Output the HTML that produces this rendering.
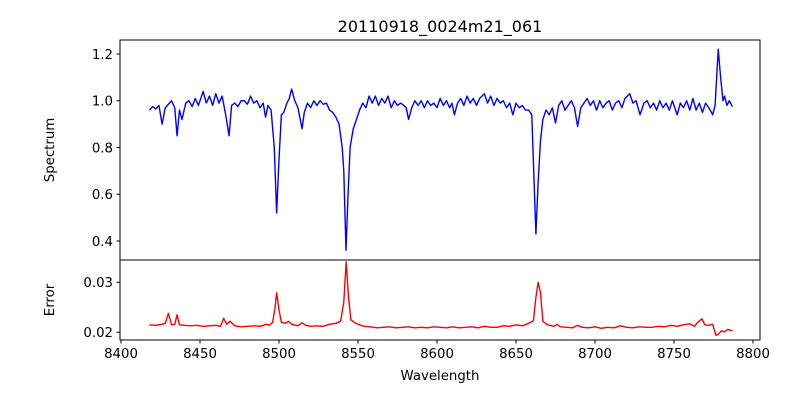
<!DOCTYPE html>
<html><head><meta charset="utf-8"><style>
html,body{margin:0;padding:0;background:#fff;}
svg{display:block;font-family:"DejaVu Sans","Liberation Sans",sans-serif;}
</style></head><body>
<svg id="chart" width="800" height="400" viewBox="0 0 800 400">
<text x="440" y="32" text-anchor="middle" font-size="16">20110918_0024m21_061</text>
<text transform="translate(54,150) rotate(-90)" text-anchor="middle" font-size="13.3">Spectrum</text>
<text transform="translate(54,300) rotate(-90)" text-anchor="middle" font-size="13.3">Error</text>
<text x="440" y="380" text-anchor="middle" font-size="13.3">Wavelength</text>
<g id="marks"></g>
<rect x="120" y="40" width="640" height="220" fill="none" stroke="#000" stroke-width="1"/>
<rect x="120" y="260" width="640" height="80" fill="none" stroke="#000" stroke-width="1"/>
<g id="axes"></g>
</svg>
<script>
const xTicks = [8400, 8450, 8500, 8550, 8600, 8650, 8700, 8750, 8800];
const specTicks = [0.4, 0.6, 0.8, 1.0, 1.2];
const specTickLabels = ["0.4", "0.6", "0.8", "1.0", "1.2"];
const errTicks = [0.02, 0.03];
const errTickLabels = ["0.02", "0.03"];

const specWave = [8418,8420,8422,8424,8426,8428,8430,8432,8434,8435.5,8437,8438.6,8441,8443,8445,8447,8449,8452,8454,8456,8458,8460,8462,8464,8466,8468.4,8470,8472,8474,8476,8478,8480,8482,8484,8486,8488,8490,8491.5,8493,8495,8497,8498.5,8500,8501.5,8503,8505,8506.5,8508,8510,8512,8514.6,8516,8518,8520,8522,8524,8526,8528,8530,8532,8534,8536,8538,8540,8541,8542.4,8543.7,8545,8547,8549,8551,8553,8555,8557,8559,8561,8563,8565,8567,8569,8571,8573,8575,8577,8579,8580.5,8582,8584,8586,8588,8590,8592,8594,8596,8598,8600,8602,8604,8606,8608,8609.5,8611,8613,8615,8617,8619,8621,8623,8625,8627,8630,8632,8634,8636,8638,8640,8642,8644,8646,8648,8650,8652,8654,8656,8658,8660,8661.2,8662.6,8664,8665.5,8667,8669,8671,8673,8675,8677,8679,8681,8683,8685,8687,8689,8691,8693,8695,8697,8699,8701,8703,8705,8707,8709,8711,8713,8715,8717,8719,8722,8724,8726,8728.5,8731,8733,8735,8737,8739,8741,8743,8745,8747,8749,8752,8754,8756,8758,8760,8762,8764,8766,8768,8770,8772,8774.5,8776,8777,8778,8779.5,8781,8782,8783.5,8785,8787];
const specValues = [0.96,0.975,0.965,0.98,0.90,0.97,0.985,1.0,0.97,0.85,0.96,0.92,0.99,1.0,0.975,1.01,0.98,1.04,0.99,1.02,0.98,1.03,0.99,1.02,0.95,0.85,0.98,0.99,0.975,1.0,1.0,0.985,1.02,0.99,1.0,0.97,0.99,0.93,0.98,0.96,0.80,0.52,0.75,0.94,0.95,0.99,1.01,1.05,1.0,0.97,0.88,0.95,0.99,0.97,1.0,0.98,1.0,0.985,0.99,0.96,0.95,0.93,0.90,0.80,0.70,0.36,0.60,0.80,0.88,0.92,0.96,0.99,0.97,1.02,0.99,1.02,0.98,1.01,0.99,1.02,0.97,1.0,0.98,0.99,0.98,0.97,0.92,0.97,1.0,0.98,1.0,0.97,1.0,0.98,0.99,0.97,1.01,0.98,1.0,0.97,0.99,0.94,0.99,1.01,0.98,1.02,0.99,1.01,0.98,1.01,1.03,0.99,1.02,0.98,1.01,0.99,1.0,0.97,0.99,0.94,0.99,0.97,0.98,0.96,0.96,0.94,0.70,0.43,0.65,0.83,0.92,0.96,0.94,0.97,0.905,0.98,1.0,0.96,0.98,1.0,0.97,0.89,0.97,0.99,1.01,0.98,1.0,0.96,1.0,0.97,0.99,1.0,0.96,0.99,1.0,0.97,1.01,1.03,0.99,1.0,0.94,0.99,1.0,0.97,0.99,0.96,1.0,0.97,0.99,0.96,1.0,0.94,0.99,0.97,1.0,0.96,1.01,0.96,0.99,0.95,0.99,0.97,0.94,0.98,1.1,1.22,1.1,1.0,1.02,0.98,1.0,0.975];

const errWave = [8418,8422,8426,8428,8430,8432,8434,8435.5,8437,8440,8444,8448,8452,8456,8460,8463,8465,8467,8469,8472,8476,8480,8484,8488,8492,8494,8496,8497.5,8498.5,8500,8501.5,8504,8506,8508,8512,8514.5,8517,8520,8524,8528,8532,8536,8539,8541,8542.5,8544,8545.5,8548,8550,8554,8558,8562,8566,8570,8574,8578,8582,8586,8590,8594,8598,8602,8606,8610,8614,8618,8622,8626,8630,8634,8638,8642,8646,8650,8654,8658,8661,8662.6,8664,8665.5,8667,8670,8674,8676,8678,8682,8686,8689,8692,8696,8700,8704,8708,8712,8716,8720,8724,8728,8732,8736,8740,8744,8748,8752,8756,8760,8763,8765,8767.7,8769.5,8772,8774.5,8776.5,8778,8780,8782,8784,8787];
const errValues = [0.0215,0.0214,0.0216,0.0218,0.0238,0.0215,0.0216,0.0235,0.0215,0.0214,0.0213,0.0214,0.0212,0.0213,0.0214,0.0212,0.0228,0.0216,0.0222,0.0213,0.0211,0.0212,0.0213,0.0212,0.0216,0.0214,0.022,0.025,0.0279,0.0245,0.022,0.0218,0.0222,0.0216,0.0213,0.0219,0.0214,0.0212,0.0213,0.0212,0.0216,0.0218,0.0222,0.026,0.0341,0.027,0.0225,0.0219,0.0216,0.0212,0.0211,0.0209,0.021,0.0211,0.0209,0.021,0.0211,0.0209,0.021,0.0209,0.0211,0.021,0.0209,0.0211,0.0209,0.021,0.0211,0.0209,0.0212,0.021,0.021,0.0213,0.0212,0.0215,0.0213,0.0218,0.0223,0.027,0.030,0.028,0.0222,0.0215,0.0212,0.0216,0.0211,0.021,0.0209,0.0214,0.021,0.0209,0.0211,0.0208,0.021,0.0209,0.0213,0.021,0.0209,0.0211,0.021,0.021,0.0212,0.0211,0.0214,0.0212,0.0215,0.0217,0.0212,0.022,0.0227,0.0215,0.0214,0.0216,0.0194,0.0196,0.0203,0.0201,0.0206,0.0203];

const NS = "http://www.w3.org/2000/svg";
function xScale(w){ return 121 + (w - 8400) * 1.58; }
function ySpec(v){ return 241 - (v - 0.4) * 233.75; }
function yErr(v){ return 332.3 - (v - 0.02) * 5000; }

const marks = document.getElementById('marks');
const axes = document.getElementById('axes');

function linePath(ws, vs, yf){
  let d = '';
  for (let i = 0; i < ws.length; i++) d += (i ? 'L' : 'M') + xScale(ws[i]).toFixed(2) + ',' + yf(vs[i]).toFixed(2);
  return d;
}
const sp = document.createElementNS(NS, 'path');
sp.setAttribute('d', linePath(specWave, specValues, ySpec));
sp.setAttribute('fill', 'none'); sp.setAttribute('stroke', '#0000ff'); sp.setAttribute('stroke-width', '1.4');
sp.setAttribute('stroke-linejoin', 'round');


marks.appendChild(sp);

const ep = document.createElementNS(NS, 'path');
ep.setAttribute('d', linePath(errWave, errValues, yErr));
ep.setAttribute('fill', 'none'); ep.setAttribute('stroke', '#ff0000'); ep.setAttribute('stroke-width', '1.4');
ep.setAttribute('stroke-linejoin', 'round');


marks.appendChild(ep);

function tick(x1, y1, x2, y2){
  const l = document.createElementNS(NS, 'line');
  l.setAttribute('x1', x1); l.setAttribute('y1', y1); l.setAttribute('x2', x2); l.setAttribute('y2', y2);
  l.setAttribute('stroke', '#000'); l.setAttribute('stroke-width', '1');
  
  
  axes.appendChild(l);
}
function label(x, y, txt, anchor, name){
  const t = document.createElementNS(NS, 'text');
  t.setAttribute('x', x); t.setAttribute('y', y); t.setAttribute('text-anchor', anchor);
  t.setAttribute('font-size', '13.3');
  t.textContent = txt;
  
  
  axes.appendChild(t);
}
xTicks.forEach(w => {
  const x = xScale(w);
  tick(x, 340, x, 343.5);
  label(x, 358, String(w), 'middle', 'x-tick-label');
});
specTicks.forEach((v, i) => {
  const y = ySpec(v);
  tick(116.5, y, 120, y);
  label(113, y + 4.8, specTickLabels[i], 'end', 'spectrum-y-tick-label');
});
errTicks.forEach((v, i) => {
  const y = yErr(v);
  tick(116.5, y, 120, y);
  label(113, y + 4.8, errTickLabels[i], 'end', 'error-y-tick-label');
});
</script>
</body></html>
